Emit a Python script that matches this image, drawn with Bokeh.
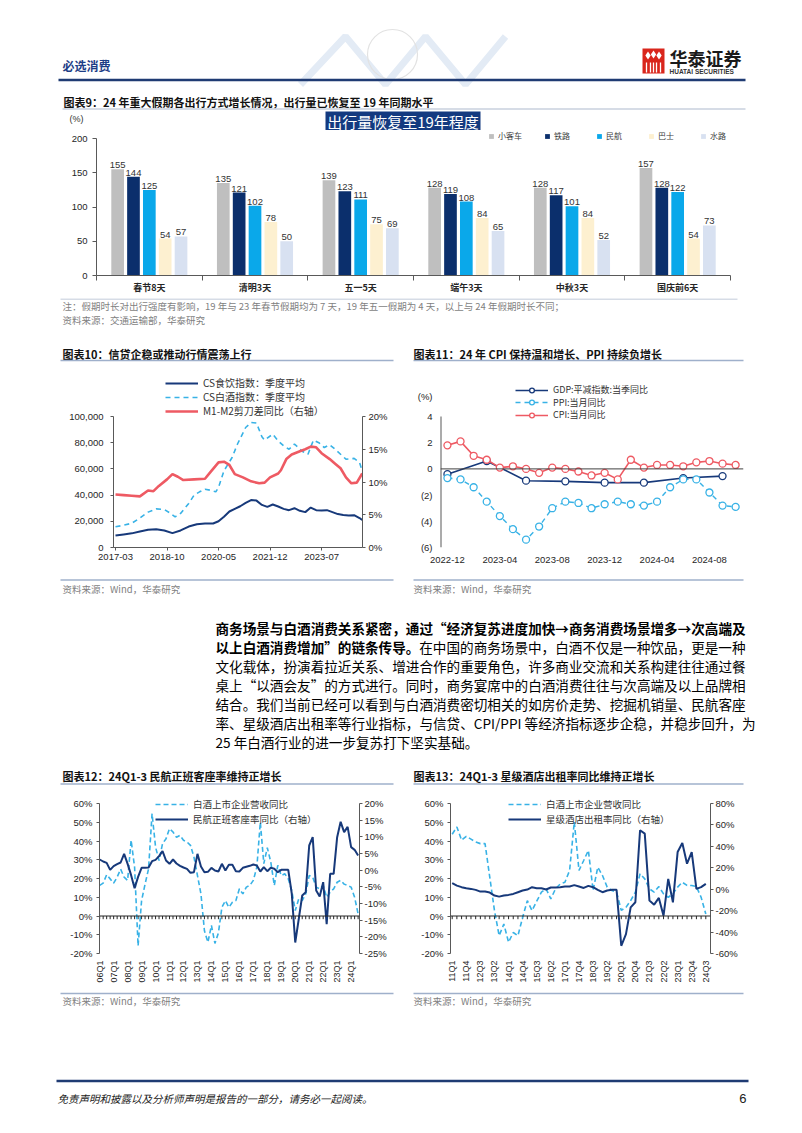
import numpy as np
from bokeh.plotting import figure
from bokeh.models import (Range1d, LinearAxis, FixedTicker, Legend, LegendItem,
                          Span, NumeralTickFormatter, PrintfTickFormatter)
from bokeh.layouts import column, row
from bokeh.core.properties import value
from bokeh.embed import file_html
from bokeh.resources import INLINE

CJK = "Noto Sans CJK SC"
LAT = "Liberation Sans"
NAVY = "#17397a"
LBLUE = "#38b2e6"
RED = "#ee5a63"
AXC = "#595959"
SRC = "Wind，华泰研究"

# ---------------- data ----------------
# chart 9
holidays = ["春节8天", "清明3天", "五一5天", "端午3天", "中秋3天", "国庆前6天"]
modes = ["小客车", "铁路", "民航", "巴士", "水路"]
car = [155, 135, 139, 128, 128, 157]
rail = [144, 121, 123, 119, 117, 128]
air = [125, 102, 111, 108, 101, 122]
bus = [54, 78, 75, 84, 84, 54]
water = [57, 50, 69, 65, 52, 73]
ticks9 = [0, 50, 100, 150, 200]

# chart 10 (month offsets from 2017-03)
c10_tick_m = [0, 19, 38, 57, 76]
c10_tick_lab = ["2017-03", "2018-10", "2020-05", "2021-12", "2023-07"]
food_m = [0, 3, 6, 9, 12, 15, 18, 21, 24, 27, 30, 33, 36, 38, 40, 42, 44, 46, 48, 50, 52, 54,
          56, 58, 60, 62, 64, 66, 68, 70, 72, 74, 76, 78, 80, 82, 84, 86, 88, 90, 91]
food_v = [9200, 10000, 10800, 12200, 13500, 14000, 13000, 11000, 13000, 16000, 17800, 18300,
          18300, 20000, 23500, 27500, 29500, 31500, 34000, 36200, 35800, 32500, 31000, 32800,
          31300, 29500, 28500, 30000, 28000, 27000, 30500, 28500, 28300, 28500, 27000, 25500,
          24800, 24500, 24700, 22500, 21000]
liq_m = [0, 3, 6, 9, 12, 15, 18, 20, 22, 24, 27, 29, 31, 33, 35, 37, 38, 40, 43, 45, 48, 50,
         52, 54, 55, 58, 60, 62, 64, 66, 69, 71, 73, 75, 77, 79, 81, 83, 85, 88, 90, 91]
liq_v = [15800, 17000, 18500, 22500, 27000, 29500, 29000, 26500, 23400, 26000, 33600, 40000,
         42500, 44500, 43700, 42500, 45800, 58500, 68700, 79000, 91600, 95400, 95000, 84500,
         82000, 86500, 81400, 77600, 75000, 79000, 73300, 71200, 82000, 80000, 76300, 78400,
         75000, 71200, 67400, 68000, 65000, 58500]
m12_m = [0, 3, 6, 9, 12, 14, 16, 19, 21, 23, 25, 29, 33, 35, 38, 40, 42, 44, 47, 50, 53, 55,
         57, 60, 61, 63, 65, 68, 70, 72, 74, 76, 79, 81, 83, 85, 87, 89, 91]
m12_v = [8.1, 8.0, 7.9, 7.8, 8.7, 8.6, 9.4, 10.4, 11.2, 10.8, 10.3, 10.4, 10.5, 11.5, 13.0,
         13.1, 12.6, 11.2, 10.7, 10.1, 9.8, 9.9, 10.7, 11.3, 11.8, 13.5, 14.2, 14.7, 15.0, 15.4,
         15.3, 14.4, 13.5, 12.8, 12.1, 10.7, 9.8, 9.9, 11.3]

# chart 11 (months from 2022-12)
c11_tick_m = [0, 4, 8, 12, 16, 20]
c11_tick_lab = ["2022-12", "2023-04", "2023-08", "2023-12", "2024-04", "2024-08"]
c11_yticks = [-6, -4, -2, 0, 2, 4]
c11_ylabs = ["(6)", "(4)", "(2)", "0", "2", "4"]
cpi = [1.8, 2.1, 1.0, 0.7, 0.1, 0.2, 0.0, -0.3, 0.1, 0.0, -0.2, -0.5, -0.3, -0.8, 0.7, 0.1,
       0.3, 0.3, 0.2, 0.5, 0.6, 0.4, 0.3]
ppi = [-0.7, -0.8, -1.4, -2.5, -3.6, -4.6, -5.4, -4.4, -3.0, -2.5, -2.6, -3.0, -2.7, -2.5,
       -2.7, -2.8, -2.5, -1.4, -0.8, -0.8, -1.8, -2.8, -2.9]
gdp_m = [0, 3, 6, 9, 12, 15, 18, 21]
gdp = [-0.4, 0.6, -0.9, -0.95, -1.05, -1.05, -0.7, -0.55]

# chart 12 (quarters from 06Q1)
c12_tick_lab = ["%02dQ1" % y for y in range(6, 25)]
c12_baijiu = [16.3, 17.5, 22.0, 19.8, 17.5, 20.7, 25.0, 20.7, 19.0, 40.4,
              26.0, -15.9, 8.2, 17.0, 25.2, 54.6, 36.8, 29.6, 38.6, 41.2,
              46.6, 44.8, 42.0, 43.0, 40.4, 39.5, 37.7, 31.4, 21.6, 11.8,
              -7.9, -14.0, -5.0, -14.6, -9.0, 4.6, 8.2, 4.6, 7.3, 8.2,
              14.5, 11.8, 15.4, 16.3, 19.0, 26.0, 50.0, 27.9, 36.4, 28.8,
              16.3, 27.0, 21.6, 22.5, 19.8, 13.6, 2.9, 9.1, 8.2, 11.8,
              21.6, 20.7, 15.4, 14.5, 16.3, 10.0, 12.7, 14.5, 18.0, 19.0,
              17.0, 16.3, 15.4, 10.0, 1.1]
c12_air = [3.2, 2.6, 2.2, 0.1, 1.2, 1.8, 2.3, 4.9, 1.9, -1.5,
           -5.4, -2.0, 0.7, 0.7, 0.8, 2.7, 3.1, 4.2, 5.7, 2.9,
           1.9, 3.2, 2.0, 1.3, 0.8, 0.4, -0.8, -0.6, 4.9, 1.1,
           -0.6, -0.5, 0.7, -0.1, -0.4, 1.9, -0.1, 1.6, 1.6, -0.3,
           -0.4, 0.7, 1.0, 1.3, 1.7, 1.4, -0.4, 0.9, -0.3, 0.7,
           0.4, -0.6, 0.1, 0.1, 0.1, -7.0, -21.7, -14.7, -7.6, -6.6,
           7.4, 9.9, -6.1, -7.9, -3.6, -16.2, -1.1, -1.1, 9.9, 14.5,
           11.4, 13.0, 6.9, 6.1, 4.4]

# chart 13 (quarters from 11Q1)
c13_tick_lab = ["11Q1", "11Q4", "12Q3", "13Q2", "14Q1", "14Q4", "15Q3", "16Q2", "17Q1", "17Q4",
                "18Q3", "19Q2", "20Q1", "20Q4", "21Q3", "22Q2", "23Q1", "23Q4", "24Q3"]
c13_baijiu = [43.6, 47.5, 40.4, 42.5, 41.0, 39.5, 38.6, 38.6, 20.7, 2.9,
              -10.5, -4.3, -14.0, -8.8, -10.5, -0.7, 8.2, 2.9, 7.9, 12.7,
              14.5, 9.1, 14.5, 17.1, 18.0, 24.3, 50.2, 24.3, 29.6, 35.0,
              13.6, 26.0, 21.6, 15.4, 13.6, 12.7, 3.0, 4.6, 8.2, 12.7,
              22.5, 19.8, 14.5, 12.7, 15.7, 11.8, 10.0, 11.8, 15.4, 18.0,
              16.3, 16.3, 15.7, 10.0, 1.1]
c13_hotel = [5.6, 3.4, 1.9, 0.9, 0.3, -0.6, -2.2, -2.2, -3.1, -5.9,
             -6.9, -5.9, -5.3, -4.4, -2.8, -1.2, -0.3, 1.9, 0.9, 0.9,
             -0.3, 1.6, 1.6, 1.9, 2.5, 2.5, 3.8, 2.5, 1.2, 3.1,
             1.9, -0.6, -2.8, -1.2, -0.6, -0.6, -52.8, -41.9, -16.9, -12.2,
             55.0, 51.9, -10.6, -14.4, -8.1, -24.7, 9.7, -12.2, 34.7, 43.1,
             23.8, 34.7, 0.3, 1.9, 5.0]

para = [
    "商务场景与白酒消费关系紧密，通过“经济复苏进度加快→商务消费场景增多→次高端及",
    "在中国的商务场景中，白酒不仅是一种饮品，更是一种",
    "文化载体，扮演着拉近关系、增进合作的重要角色，许多商业交流和关系构建往往通过餐",
    "桌上“以酒会友”的方式进行。同时，商务宴席中的白酒消费往往与次高端及以上品牌相",
    "结合。我们当前已经可以看到与白酒消费密切相关的如房价走势、挖掘机销量、民航客座",
    "率、星级酒店出租率等行业指标，与信贷、CPI/PPI 等经济指标逐步企稳，并稳步回升，为",
    "25 年白酒行业的进一步复苏打下坚实基础。",
]
para_bold2 = "以上白酒消费增加”的链条传导。"

W = 802


# ---------------- helpers ----------------
def deco(h, y0):
    p = figure(width=W, height=h, x_range=Range1d(0, W), y_range=Range1d(y0 + h, y0),
               output_backend="svg", toolbar_location=None, min_border=0,
               x_axis_type=None, y_axis_type=None, frame_align=False)
    p.outline_line_color = None
    p.background_fill_color = "white"
    p.border_fill_color = "white"
    return p


def txt(p, x, y, s, size, color="#111111", font=CJK, style="normal", align="left"):
    p.text(x=[x], y=[y], text=[s], text_font=value(font), text_font_size=size,
           text_color=color, text_font_style=style, text_align=align, text_baseline="middle")


def hline(p, x0, x1, y, color, w):
    p.segment(x0=[x0], y0=[y], x1=[x1], y1=[y], line_color=color, line_width=w)


def chart(w, h, xr, yr, left, right, top, bottom):
    p = figure(width=w, height=h, x_range=Range1d(*xr), y_range=Range1d(*yr),
               output_backend="svg", toolbar_location=None, frame_align=False,
               min_border_left=left, min_border_right=right,
               min_border_top=top, min_border_bottom=bottom)
    p.grid.visible = False
    p.outline_line_color = None
    p.background_fill_color = "white"
    p.border_fill_color = "white"
    return p


def style_axis(ax, size="9.5px", tick_out=3, standoff=5):
    ax.axis_line_color = AXC
    ax.major_tick_line_color = AXC
    ax.major_tick_in = 0
    ax.major_tick_out = tick_out
    ax.minor_tick_line_color = None
    ax.major_label_text_font = LAT
    ax.major_label_text_font_size = size
    ax.major_label_text_color = "#262626"
    ax.major_label_standoff = standoff


def leg(p, rends, label, vx, vy, gw=33, size="9.5px", h=14):
    lg = Legend(items=[LegendItem(label=label, renderers=rends)], location=(vx, vy),
                glyph_width=gw, glyph_height=h, label_height=h, label_standoff=5,
                padding=0, margin=0, spacing=0, border_line_color=None,
                background_fill_alpha=0, label_text_font=CJK, label_text_font_size=size,
                label_text_color="#333333")
    p.add_layout(lg)


# ---------------- header (page y 0..130) ----------------
hdr = deco(130, 0)
hdr.line(x=[300, 345, 385, 425, 465, 505], y=[84, 36, 84, 36, 84, 36], line_color="#e3ebf5",
         line_width=7)
hdr.scatter(x=[392], y=[54], size=50, marker="circle", fill_color=None,
            line_color="#e2e2e2", line_width=1.2)
txt(hdr, 62, 65, "必选消费", "12px", color="#1d3d86", style="bold")
hdr.quad(left=[642], right=[664], top=[48], bottom=[73], fill_color="#d9261c", line_color=None)
hdr.scatter(x=[647.5, 653, 658.5], y=[55, 54, 55], marker="diamond", size=8,
            fill_color="white", line_color=None)
hdr.segment(x0=[646, 650, 653, 656, 660], y0=[62] * 5, x1=[646, 650, 653, 656, 660],
            y1=[72] * 5, line_color="white", line_width=1.3)
txt(hdr, 669, 57, "华泰证券", "18px", color="#1a1a1a", style="bold")
txt(hdr, 669, 70.5, "HUATAI SECURITIES", "6.5px", color="#333333", font=LAT, style="bold")
hline(hdr, 58, 745, 79.5, "#1f3b73", 2.5)
txt(hdr, 63, 101, "图表9：24 年重大假期各出行方式增长情况，出行量已恢复至 19 年同期水平", "11px",
    style="bold")
hline(hdr, 62, 745, 108.5, "#c9d1de", 1.5)
txt(hdr, 76, 118, "(%)", "9px", color="#333333", font=LAT, align="center")
hdr.quad(left=[325], right=[480], top=[111], bottom=[130], fill_color="#143a80",
         line_color=None)
txt(hdr, 402.5, 120.5, "出行量恢复至19年程度", "15px", color="white", align="center")

# ---------------- chart 9 (page y 130..298, frame x 96..730, y 130..275) ----------------
p9 = chart(W, 168, (-0.5, len(holidays) - 0.5), (0, 200 + 8 / 0.685), 96, 72, 0, 23)
offs = [-0.3, -0.15, 0.0, 0.15, 0.3]
cols9 = ["#bfbfbf", "#0b2f6c", "#0aa8ea", "#fdf0d0", "#d8e1f1"]
xb = np.arange(len(holidays))
items9 = []
for name, vals, off, c in zip(modes, [car, rail, air, bus, water], offs, cols9):
    xs = xb + off
    r = p9.vbar(x=xs, top=vals, bottom=0, width=0.12, fill_color=c, line_color=None)
    p9.text(x=xs, y=vals, text=[str(v) for v in vals], text_align="center",
            text_baseline="bottom", y_offset=-1, text_font=value(LAT),
            text_font_size="9.5px", text_color="#333333")
    items9.append(LegendItem(label=name, renderers=[r]))
p9.add_layout(Legend(items=items9, orientation="horizontal", location=(392, 134),
                     glyph_width=6, glyph_height=6, label_height=10, label_standoff=4,
                     spacing=22, padding=0, margin=0, border_line_color=None,
                     background_fill_alpha=0, label_text_font=CJK,
                     label_text_font_size="8px", label_text_color="#404040"))
style_axis(p9.yaxis[0], tick_out=4, standoff=5)
p9.yaxis.ticker = FixedTicker(ticks=ticks9)
p9.yaxis.bounds = (0, 200)
style_axis(p9.xaxis[0], tick_out=0, standoff=0)
p9.xaxis.ticker = FixedTicker(ticks=list(range(len(holidays))),
                              minor_ticks=[i - 0.5 for i in range(len(holidays) + 1)])
p9.xaxis.major_label_overrides = {i: h for i, h in enumerate(holidays)}
p9.xaxis.major_tick_line_color = None
p9.xaxis.minor_tick_line_color = AXC
p9.xaxis.minor_tick_in = 0
p9.xaxis.minor_tick_out = 5
p9.xaxis.major_label_text_font = CJK
p9.xaxis.major_label_text_font_style = "bold"
p9.xaxis.major_label_text_font_size = "9px"

# ---------------- note 9 ----------------
n9 = deco(42, 298)
hline(n9, 60, 737, 298.5, "#c9d1de", 1.5)
txt(n9, 62, 305, "注：假期时长对出行强度有影响，19 年与 23 年春节假期均为 7 天，19 年五一假期为 4 天，以上与 24 年假期时长不同；",
    "9.5px", color="#7f7f7f")
txt(n9, 62, 319, "资料来源：交通运输部，华泰研究", "9.5px", color="#7f7f7f")

# ---------------- titles 10/11 ----------------
t1011 = deco(25, 340)
txt(t1011, 62, 353, "图表10：信贷企稳或推动行情震荡上行", "11px", style="bold")
txt(t1011, 413, 353, "图表11：24 年 CPI 保持温和增长、PPI 持续负增长", "11px", style="bold")
hline(t1011, 60, 393, 360, "#9fb0cb", 1.5)
hline(t1011, 413, 743, 360, "#9fb0cb", 1.5)

# ---------------- chart 10 (fig x 0..401, y 365..575; frame x 113..362, y 365..547) ----------------
k10 = 182 / 131
p10 = chart(401, 210, (-0.74, 91.1), (0, 100000 * k10), 113, 39, 0, 28)
p10.extra_y_ranges = {"r": Range1d(0, 20 * k10)}
r_food = p10.line(food_m, food_v, line_color=NAVY, line_width=2)
r_liq = p10.line(liq_m, liq_v, line_color=LBLUE, line_width=1.6, line_dash="5 4")
r_m12 = p10.line(m12_m, m12_v, line_color=RED, line_width=2.6, y_range_name="r")
style_axis(p10.yaxis[0], standoff=7)
p10.yaxis.ticker = FixedTicker(ticks=[0, 20000, 40000, 60000, 80000, 100000])
p10.yaxis.formatter = NumeralTickFormatter(format="0,0")
p10.yaxis.bounds = (0, 100000)
ax10r = LinearAxis(y_range_name="r", ticker=FixedTicker(ticks=[0, 5, 10, 15, 20]),
                   formatter=PrintfTickFormatter(format="%d%%"), bounds=(0, 20))
style_axis(ax10r, standoff=3)
p10.add_layout(ax10r, "right")
style_axis(p10.xaxis[0], standoff=3)
p10.xaxis.ticker = FixedTicker(ticks=c10_tick_m)
p10.xaxis.major_label_overrides = dict(zip(c10_tick_m, c10_tick_lab))
leg(p10, [r_food], "CS食饮指数：季度平均", 52, 547 - 390, size="10px")
leg(p10, [r_liq], "CS白酒指数：季度平均", 52, 547 - 404, size="10px")
leg(p10, [r_m12], "M1-M2剪刀差同比（右轴）", 52, 547 - 418, size="10px")

# ---------------- chart 11 (fig x 401..802; frame x 440..743, y 365..547) ----------------
x11 = (-0.53, 22.6)
p11 = chart(401, 210, x11, (-6, -6 + 182 / 13.1), 39, 59, 0, 28)
p11.add_layout(Span(location=0, dimension="width", line_color="#404040", line_width=1))
p11.segment(x0=[x11[0]], y0=[c11_yticks[0]], x1=[x11[0]], y1=[c11_yticks[-1]],
            line_color=AXC, line_width=2)
m11 = list(range(len(cpi)))
rg1 = p11.line(gdp_m, gdp, line_color=NAVY, line_width=1.6)
rg2 = p11.scatter(gdp_m, gdp, size=7, marker="circle", fill_color="white",
                  line_color=NAVY, line_width=1.3)
rp1 = p11.line(m11, ppi, line_color=LBLUE, line_width=1.4, line_dash="5 4")
rp2 = p11.scatter(m11, ppi, size=7, marker="circle", fill_color="white",
                  line_color=LBLUE, line_width=1.3)
rc1 = p11.line(m11, cpi, line_color=RED, line_width=1.6)
rc2 = p11.scatter(m11, cpi, size=7, marker="circle", fill_color="white",
                  line_color=RED, line_width=1.3)
style_axis(p11.yaxis[0], tick_out=0, standoff=8)
p11.yaxis.axis_line_color = None
unit_tick = 5.5  # position of the "(%)" unit caption on the value axis
p11.yaxis.ticker = FixedTicker(ticks=c11_yticks + [unit_tick])
ov11 = dict(zip(c11_yticks, c11_ylabs))
ov11[unit_tick] = "(%)"
p11.yaxis.major_label_overrides = ov11
style_axis(p11.xaxis[0], standoff=6)
p11.xaxis.axis_line_color = None
p11.xaxis.major_tick_line_color = None
p11.xaxis.ticker = FixedTicker(ticks=c11_tick_m)
p11.xaxis.major_label_overrides = dict(zip(c11_tick_m, c11_tick_lab))
leg(p11, [rg1, rg2], "GDP:平减指数:当季同比", 75, 547 - 396, size="9px", h=12)
leg(p11, [rp1, rp2], "PPI:当月同比", 75, 547 - 408.5, size="9px", h=12)
leg(p11, [rc1, rc2], "CPI:当月同比", 75, 547 - 421, size="9px", h=12)

# ---------------- sources 10/11 ----------------
s1011 = deco(25, 575)
hline(s1011, 60, 393, 579.5, "#9fb0cb", 1.5)
hline(s1011, 413, 743, 579.5, "#9fb0cb", 1.5)
txt(s1011, 62, 588.5, "资料来源：" + SRC, "9.5px", color="#7f7f7f")
txt(s1011, 413, 588.5, "资料来源：" + SRC, "9.5px", color="#7f7f7f")

# ---------------- paragraph ----------------
pp = deco(160, 600)
PFS = "13.6px"
y0 = 627
txt(pp, 215, y0, para[0], PFS, color="#000000", style="bold")
txt(pp, 215, y0 + 19, para_bold2, PFS, color="#000000", style="bold")
txt(pp, 745, y0 + 19, para[1], PFS, color="#000000", align="right")
for i in range(2, len(para)):
    txt(pp, 215, y0 + 19 * i, para[i], PFS, color="#000000")

# ---------------- titles 12/13 ----------------
t1213 = deco(30, 760)
txt(t1213, 62, 775, "图表12：24Q1-3 民航正班客座率维持正增长", "11px", style="bold")
txt(t1213, 413, 775, "图表13：24Q1-3 星级酒店出租率同比维持正增长", "11px", style="bold")
hline(t1213, 60, 393, 783.5, "#9fb0cb", 1.5)
hline(t1213, 413, 743, 783.5, "#9fb0cb", 1.5)


def qchart(w, xr, left, right, lvals, rvals, rrange, rticks, tick_step, tick_labels, lname, rname,
           lgx):
    # frame spans page y 790..953 ; value axes drawn over y 803..953
    k = 163 / 150
    lspan = (-20, -20 + 80 * k)
    rspan = (rrange[0], rrange[0] + (rrange[1] - rrange[0]) * k)
    p = chart(w, 195, xr, lspan, left, right, 0, 32)
    p.extra_y_ranges = {"r": Range1d(*rspan)}
    q = np.arange(len(lvals))
    p.add_layout(Span(location=0, dimension="width", line_color="#262626", line_width=1))
    p.segment(x0=q, y0=0, x1=q, y1=-1.7, line_color="#262626", line_width=1)
    rl = p.line(q, lvals, line_color=LBLUE, line_width=1.6, line_dash="5 3")
    rr = p.line(np.arange(len(rvals)), rvals, line_color=NAVY, line_width=2, y_range_name="r")
    style_axis(p.yaxis[0], standoff=4)
    p.yaxis.ticker = FixedTicker(ticks=list(range(-20, 61, 10)))
    p.yaxis.formatter = PrintfTickFormatter(format="%d%%")
    p.yaxis.bounds = (-20, 60)
    axr = LinearAxis(y_range_name="r", ticker=FixedTicker(ticks=rticks),
                     formatter=PrintfTickFormatter(format="%d%%"), bounds=rrange)
    style_axis(axr, standoff=2)
    p.add_layout(axr, "right")
    style_axis(p.xaxis[0], size="9px", standoff=4)
    p.xaxis.axis_line_color = None
    p.xaxis.major_tick_line_color = None
    tk = list(range(0, len(lvals), tick_step))
    p.xaxis.ticker = FixedTicker(ticks=tk)
    p.xaxis.major_label_overrides = dict(zip(tk, tick_labels))
    p.xaxis.major_label_orientation = np.pi / 2
    leg(p, [rl], lname, lgx, 953 - 811)
    leg(p, [rr], rname, lgx, 953 - 826)
    return p


p12 = qchart(401, (-0.05, 74.4), 99, 42, c12_baijiu, c12_air, (-25, 20),
             list(range(-25, 21, 5)), 4, c12_tick_lab, "白酒上市企业营收同比",
             "民航正班客座率同比（右轴）", 56)
p13 = qchart(401, (-0.36, 55.0), 49, 92, c13_baijiu, c13_hotel, (-60, 80),
             list(range(-60, 81, 20)), 3, c13_tick_lab, "白酒上市企业营收同比",
             "星级酒店出租率同比（右轴）", 58)

# ---------------- sources 12/13 ----------------
s1213 = deco(25, 985)
hline(s1213, 60, 393, 993, "#9fb0cb", 1.5)
hline(s1213, 413, 743, 993, "#9fb0cb", 1.5)
txt(s1213, 62, 1000.5, "资料来源：" + SRC, "9.5px", color="#7f7f7f")
txt(s1213, 413, 1000.5, "资料来源：" + SRC, "9.5px", color="#7f7f7f")

# ---------------- footer ----------------
ft = deco(120, 1010)
hline(ft, 56, 748, 1080.5, "#1f3b73", 2.5)
txt(ft, 57, 1098, "免责声明和披露以及分析师声明是报告的一部分，请务必一起阅读。", "10.5px",
    color="#1a1a1a", style="italic")
txt(ft, 746, 1098, "6", "13px", color="#1a1a1a", font=LAT, align="right")

page = column(hdr, p9, n9, t1011, row(p10, p11), s1011, pp, t1213, row(p12, p13), s1213, ft)
open("out.html", "w").write(file_html(page, INLINE))
